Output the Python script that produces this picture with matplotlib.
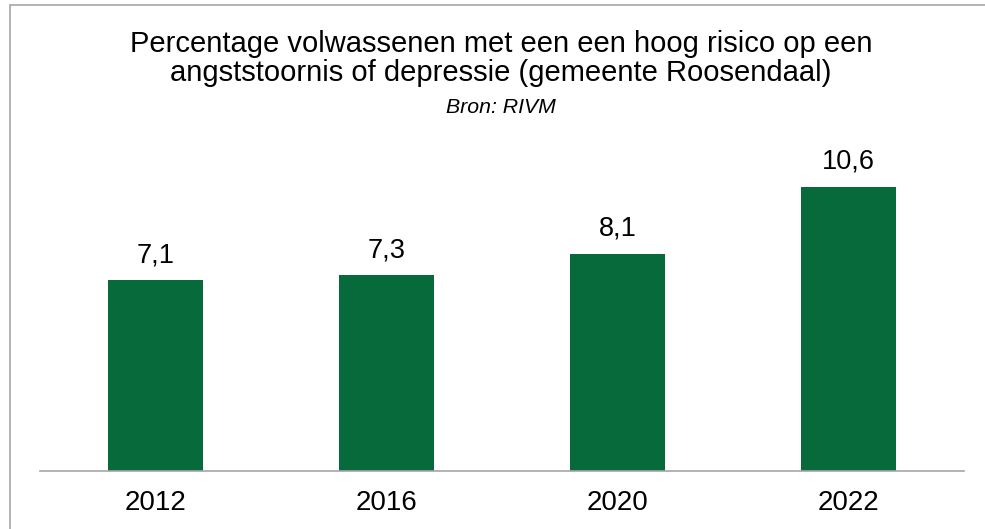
import matplotlib
matplotlib.use("Agg")
import matplotlib.pyplot as plt
from matplotlib.patches import Rectangle

years = ["2012", "2016", "2020", "2022"]
values = [7.1, 7.3, 8.1, 10.6]
labels = ["7,1", "7,3", "8,1", "10,6"]

GREEN = "#076A3B"
W, H = 985, 529

plt.rcParams["font.family"] = ["Liberation Sans", "DejaVu Sans"]

fig = plt.figure(figsize=(W / 100, H / 100), dpi=100)

# outer frame
fig.patches.append(Rectangle((10 / W, -0.1), 1.2, 1 - 5 / H + 0.1, transform=fig.transFigure,
                             fill=False, edgecolor="#A6A6A6", lw=1.2))

# axes: x 40..964 px, baseline at y=470.7 px
x0, x1 = 40, 964
ybase = 470.7
ytop = 140
ax = fig.add_axes([x0 / W, 1 - ybase / H, (x1 - x0) / W, (ybase - ytop) / H])
ax.bar(range(len(years)), values, width=0.407, color=GREEN)
ax.set_xlim(-0.5, len(years) - 0.5)
ax.set_ylim(0, (ybase - ytop) / 26.8)

for i, (v, lab) in enumerate(zip(values, labels)):
    ax.annotate(lab, (i, v), xytext=(0, 18), textcoords="offset pixels",
                ha="center", va="baseline", fontsize=19.5)

ax.set_xticks(range(len(years)))
ax.set_xticklabels(years, fontsize=20)
ax.tick_params(axis="x", length=0, pad=14)
ax.set_yticks([])
for s in ["top", "right", "left"]:
    ax.spines[s].set_visible(False)
ax.spines["bottom"].set_color("#A6A6A6")
ax.spines["bottom"].set_linewidth(1.2)

cx = 501 / W
fig.text(cx, 1 - 52 / H, "Percentage volwassenen met een een hoog risico op een",
         ha="center", va="baseline", fontsize=21)
fig.text(cx, 1 - 81 / H, "angststoornis of depressie (gemeente Roosendaal)",
         ha="center", va="baseline", fontsize=21)
fig.text(cx, 1 - 112.7 / H, "Bron: RIVM", ha="center", va="baseline",
         fontsize=15.3, style="italic")

fig.savefig("out.png", dpi=100)
